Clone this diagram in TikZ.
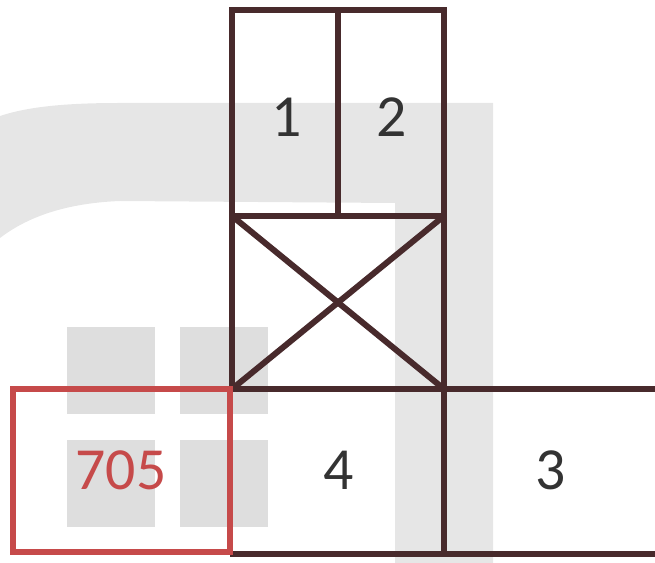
\documentclass[tikz,border=0pt]{standalone}
\usepackage{fontspec}
\setmainfont{Carlito}
\definecolor{xiancolor}{RGB}{72,42,44}
\definecolor{hongcolor}{RGB}{198,74,74}
\definecolor{shuiyin}{RGB}{230,230,230}
\definecolor{fangkuai}{RGB}{222,222,222}
\begin{document}
\begin{tikzpicture}[x=0.02cm,y=-0.02cm,
    xian/.style={line width=3.4pt,xiancolor},
    hong/.style={line width=3.4pt,hongcolor},
    hao/.style={font=\fontsize{34}{36}\selectfont,text=black!80}]
  \useasboundingbox (0,0) rectangle (655,563);
  % 水印
  \fill[shuiyin] (0,116) .. controls (30,106) and (70,103) .. (120,103) -- (493,103)
       -- (493,563) -- (395,563) -- (395,203) -- (120,201)
       .. controls (70,203) and (30,215) .. (0,238) -- cycle;
  \foreach \x in {67,180}
    \foreach \y in {327,440}
      \fill[fangkuai] (\x,\y) rectangle ++(88,87);

  % 点
  \coordinate (a) at (232,10);
  \coordinate (b) at (338,10);
  \coordinate (c) at (444,10);
  \coordinate (d) at (232,216);
  \coordinate (e) at (338,216);
  \coordinate (f) at (444,216);
  \coordinate (g) at (232,389);
  \coordinate (h) at (444,389);
  \coordinate (i) at (655,389);
  \coordinate (j) at (230,554);
  \coordinate (k) at (444,554);
  \coordinate (l) at (655,554);

  % 线段
  \draw[xian] (d) -- (a) -- (c) -- (f) -- cycle;
  \draw[xian] (b) -- (e);
  \draw[xian] (d) -- (g) -- (h) -- (f);
  \draw[xian] (d) -- (h);
  \draw[xian] (f) -- (g);
  \draw[xian] (h) -- (i);
  \draw[xian] (h) -- (k);
  \draw[xian] (j) -- (l);
  \draw[hong] (13,389) rectangle (230,552);

  % 标签
  \node[hao] (n1) at (287,117) {1};
  \node[hao] (n2) at (392,117) {2};
  \node[hao] (n4) at (339,470) {4};
  \node[hao] (n3) at (551,470) {3};
  \node[hao,text=hongcolor] (n705) at (121,470) {705};
\end{tikzpicture}
\end{document}
